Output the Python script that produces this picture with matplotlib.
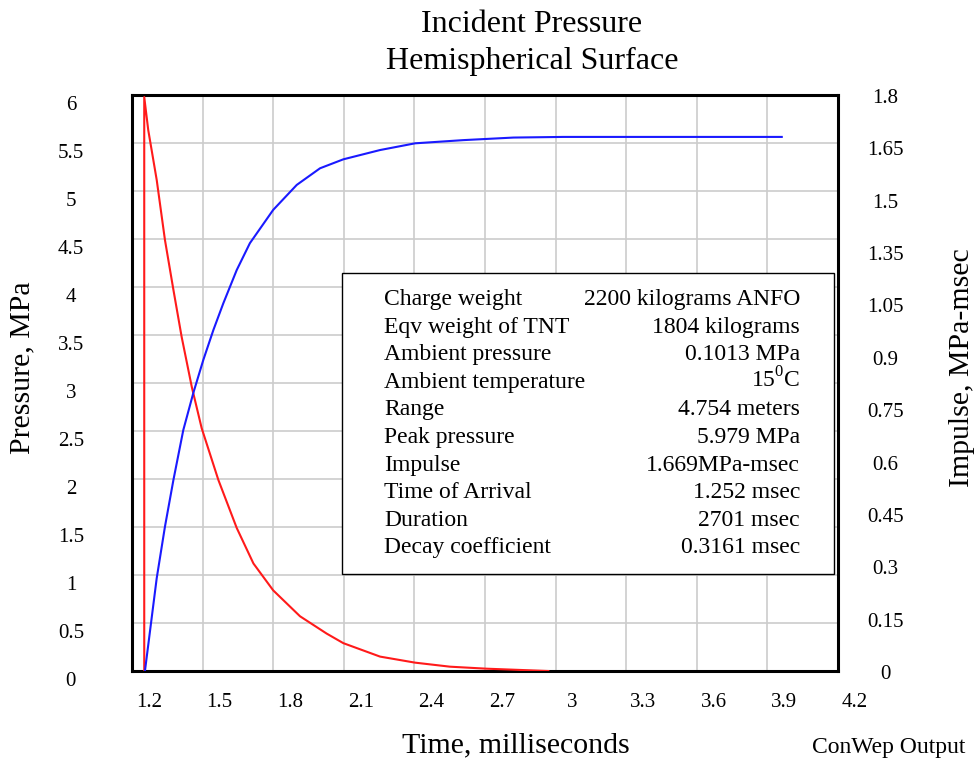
import matplotlib

matplotlib.use("Agg")
import matplotlib.pyplot as plt
import matplotlib.transforms as mtransforms
from matplotlib.patches import Rectangle
import numpy as np

plt.rcParams["font.family"] = "Liberation Serif"
plt.rcParams["mathtext.fontset"] = "custom"
plt.rcParams["mathtext.rm"] = "Liberation Serif"

# pressure history (msec, MPa)
pressure_t = [1.252, 1.252, 1.269, 1.305, 1.340, 1.376, 1.411, 1.454, 1.496, 1.567,
              1.645, 1.716, 1.800, 1.914, 2.027, 2.098, 2.254, 2.403, 2.551, 2.707, 2.969]
pressure_p = [0.0, 5.979, 5.635, 5.115, 4.49, 3.97, 3.48, 2.96, 2.53, 1.99,
              1.49, 1.12, 0.84, 0.57, 0.39, 0.29, 0.15, 0.087, 0.045, 0.024, 0.0]

# impulse history (msec, MPa-msec)
impulse_t = [1.255, 1.305, 1.340, 1.376, 1.418, 1.461, 1.503, 1.546, 1.588, 1.645,
             1.701, 1.800, 1.900, 1.999, 2.098, 2.254, 2.403, 2.608, 2.821, 3.033, 3.961]
impulse_i = [0.0, 0.29, 0.451, 0.597, 0.753, 0.87, 0.972, 1.066, 1.149, 1.253,
             1.337, 1.441, 1.519, 1.571, 1.599, 1.628, 1.649, 1.659, 1.667, 1.669, 1.669]

x_ticks = [1.2, 1.5, 1.8, 2.1, 2.4, 2.7, 3.0, 3.3, 3.6, 3.9, 4.2]
x_labels = ["1.2", "1.5", "1.8", "2.1", "2.4", "2.7", "3", "3.3", "3.6", "3.9", "4.2"]
p_ticks = [0, 0.5, 1, 1.5, 2, 2.5, 3, 3.5, 4, 4.5, 5, 5.5, 6]
p_labels = ["0", "0.5", "1", "1.5", "2", "2.5", "3", "3.5", "4", "4.5", "5", "5.5", "6"]
# right axis labels as printed (1.2 is missing in the original)
i_labels = ["0", "0.15", "0.3", "0.45", "0.6", "0.75", "0.9", "1.05", "1.35", "1.5", "1.65", "1.8"]

info_names = ["Charge weight", "Eqv weight of TNT", "Ambient pressure", "Ambient temperature",
              "Range", "Peak pressure", "Impulse", "Time of Arrival", "Duration", "Decay coefficient"]
info_values = ["2200 kilograms ANFO", "1804 kilograms", "0.1013 MPa", "15$^{\\mathrm{0}}$C",
               "4.754 meters", "5.979 MPa", "1.669MPa-msec", "1.252 msec", "2701 msec", "0.3161 msec"]

W, H, DPI = 979, 760, 100
fig = plt.figure(figsize=(W / DPI, H / DPI), dpi=DPI)
ax = fig.add_axes([132 / W, 1 - 671 / H, 706 / W, 576 / H])
ax2 = ax.twinx()

ax.plot(pressure_t, pressure_p, color="#ff1a1a", lw=1.5, zorder=3)
ax2.plot(impulse_t, impulse_i, color="#1a1aff", lw=1.5, zorder=3)

ax.set_xlim(1.2, 4.2)
ax.set_ylim(0, 6)
ax2.set_ylim(0, 1.8)

ax.set_xticks(x_ticks)
ax.set_xticklabels(x_labels)
ax.set_yticks(p_ticks)
ax.set_yticklabels(p_labels)
ax2.set_yticks(np.linspace(0, 1.8, len(i_labels)))
ax2.set_yticklabels(i_labels)

ax.grid(True, color="#cccccc", lw=1.2)
ax.set_axisbelow(True)
ax.tick_params(axis="x", length=0, labelsize=15, pad=23)
ax.tick_params(axis="y", length=0, labelsize=15, pad=44)
ax2.tick_params(axis="y", length=0, labelsize=15, pad=34)
for lab in ax.get_xticklabels():
    lab.set_verticalalignment("center")
    lab.set_transform(lab.get_transform() + mtransforms.ScaledTranslation(17 / DPI, 0, fig.dpi_scale_trans))
for lab in ax.get_yticklabels():
    lab.set_horizontalalignment("center")
    lab.set_transform(lab.get_transform() + mtransforms.ScaledTranslation(0, -8 / DPI, fig.dpi_scale_trans))
for lab in ax2.get_yticklabels():
    lab.set_horizontalalignment("center")
    lab.set_transform(lab.get_transform() + mtransforms.ScaledTranslation(0, -1 / DPI, fig.dpi_scale_trans))

for sp in ax.spines.values():
    sp.set_linewidth(2.2)
    sp.set_color("black")
for sp in ax2.spines.values():
    sp.set_visible(False)

# parameter box
x0, x1 = (342 - 132) / 706, (834 - 132) / 706
y0, y1 = (671 - 574) / 576, (671 - 273) / 576
ax2.add_patch(Rectangle((x0, y0), x1 - x0, y1 - y0, transform=ax2.transAxes,
                        facecolor="white", edgecolor="black", lw=1.0, zorder=5))
for k, (name, val) in enumerate(zip(info_names, info_values)):
    yb = (671 - (305 + 27.6 * k)) / 576
    ax2.text((384 - 132) / 706, yb, name, transform=ax2.transAxes, fontsize=17,
             ha="left", va="baseline", zorder=6)
    ax2.text((800 - 132) / 706, yb, val, transform=ax2.transAxes, fontsize=17,
             ha="right", va="baseline", zorder=6)

fig.text(532 / W, 1 - 25 / H, "Incident Pressure", fontsize=23, ha="center", va="center")
fig.text(532 / W, 1 - 61 / H, "Hemispherical Surface", fontsize=23, ha="center", va="center")
fig.text(516 / W, 1 - 745 / H, "Time, milliseconds", fontsize=21.5, ha="center", va="center")
fig.text(22 / W, 1 - 368 / H, "Pressure, MPa", fontsize=21.5, rotation=90, ha="center", va="center")
fig.text(962 / W, 1 - 368 / H, "Impulse, MPa-msec", fontsize=21.5, rotation=90, ha="center", va="center")
fig.text(965 / W, 1 - 748 / H, "ConWep Output", fontsize=17, ha="right", va="center")

fig.savefig("out.png", dpi=DPI)
